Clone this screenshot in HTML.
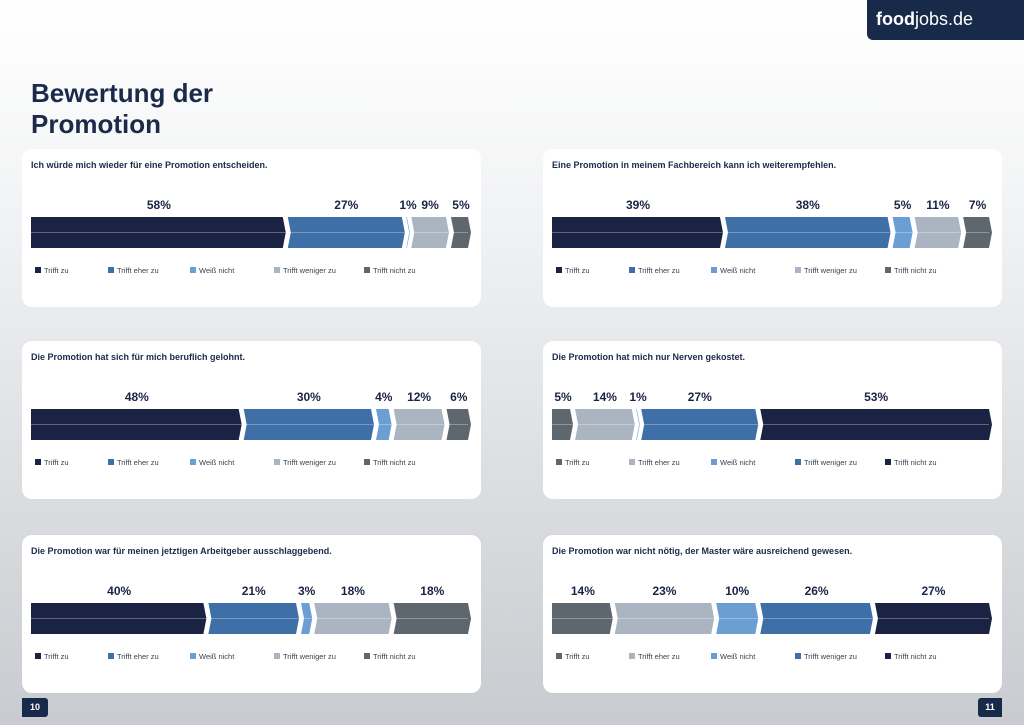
<!DOCTYPE html>
<html><head><meta charset="utf-8">
<style>
html,body{margin:0;padding:0}
body{width:1024px;height:725px;position:relative;overflow:hidden;font-family:"Liberation Sans",sans-serif;
background:linear-gradient(180deg,#ffffff 0%,#f4f5f6 25%,#e2e4e7 55%,#c8cbcf 100%);}
.title{position:absolute;left:31px;top:78px;font-size:26px;font-weight:bold;color:#1b2a4a;line-height:31px}
.logo{position:absolute;left:867px;top:0;width:157px;height:40px;background:#182a4a;border-bottom-left-radius:6px;color:#fff;font-size:18px;line-height:38px;padding-left:9px;box-sizing:border-box}
.pg{position:absolute;top:698px;height:19px;background:#182a4a;color:#fff;font-size:9px;line-height:19px;text-align:center;font-weight:bold}
</style></head><body>
<div class="logo"><b>food</b>jobs.de</div>
<div class="title">Bewertung der<br>Promotion</div>
<div class="pg" style="left:22px;width:26px;border-radius:0 3px 3px 0">10</div>
<div class="pg" style="left:978px;width:24px;border-radius:3px 0 0 3px">11</div>
<svg id="s" width="1024" height="725" style="position:absolute;left:0;top:0"></svg>
<script>
const titles=["Ich würde mich wieder für eine Promotion entscheiden.","Eine Promotion in meinem Fachbereich kann ich weiterempfehlen.","Die Promotion hat sich für mich beruflich gelohnt.","Die Promotion hat mich nur Nerven gekostet.","Die Promotion war für meinen jetztigen Arbeitgeber ausschlaggebend.","Die Promotion war nicht nötig, der Master wäre ausreichend gewesen."];
const categories=["Trifft zu","Trifft eher zu","Weiß nicht","Trifft weniger zu","Trifft nicht zu"];
const values1=[58,27,1,9,5];
const values2=[39,38,5,11,7];
const values3=[48,30,4,12,6];
const values4=[5,14,1,27,53];
const values5=[40,21,3,18,18];
const values6=[14,23,10,26,27];
const series=[values1,values2,values3,values4,values5,values6];
const C=["#1b2344","#3e6fa7","#6b9fd3","#abb5c1","#5f676e"];
const palA=C, palB=[C[4],C[3],C[2],C[1],C[0]];
const pals=[palA,palA,palA,palB,palA,palB];
const NS="http://www.w3.org/2000/svg";
const svg=document.getElementById('s');
function mk(t,a,p){const e=document.createElementNS(NS,t);for(const k in a)e.setAttribute(k,a[k]);(p||svg).appendChild(e);return e;}
const px=[22,543],py=[149,341,535];
series.forEach((vals,i)=>{
  const col=i%2,row=Math.floor(i/2);
  const X=px[col],Y=py[row];
  const g=mk('g',{});
  
  
  const p=mk('rect',{x:X,y:Y,width:459,height:158,rx:10,fill:'#fff'},g);
  
  
  const t=mk('text',{x:X+9,y:Y+19,'font-size':9,'font-weight':'bold',fill:'#1b2a4a'},g);
  t.textContent=titles[i];
  
  
  const x0=X+9,W=441,by=Y+68,bh=31,d=3;
  const total=vals.reduce((a,b)=>a+b,0);
  const sx=v=>v/total*W;
  let acc=0;
  vals.forEach((v,j)=>{
    const a=x0+sx(acc),b=x0+sx(acc+v);acc+=v;
    const l=j===0?a:a+1, r=b-1-d;
    const notch=j===0?0:d;
    const pts=[[l,by],[r,by],[r+d,by+bh/2],[r,by+bh],[l,by+bh],[l+notch,by+bh/2]].map(q=>q.join(',')).join(' ');
    const s=mk('polygon',{points:pts,fill:pals[i][j]},g);
    
    
    const lb=mk('text',{x:(a+b)/2,y:by-8,'font-size':12,'font-weight':'bold',fill:'#1b2344','text-anchor':'middle'},g);
    lb.textContent=v+'%';
    
    
  });
  mk('line',{x1:x0,x2:x0+W-4,y1:by+bh/2,y2:by+bh/2,stroke:'#ffffff','stroke-opacity':0.3,'stroke-width':1},g);
  const lx=[4,77,159,243,333];
  categories.forEach((c,j)=>{
    const lg=mk('g',{},g);
    
    
    mk('rect',{x:x0+lx[j],y:by+50,width:6,height:6,fill:pals[i][j]},lg);
    const tt=mk('text',{x:x0+lx[j]+9,y:by+56,'font-size':7.5,fill:'#3a4250'},lg);
    tt.textContent=c;
  });
});
</script>
</body></html>
